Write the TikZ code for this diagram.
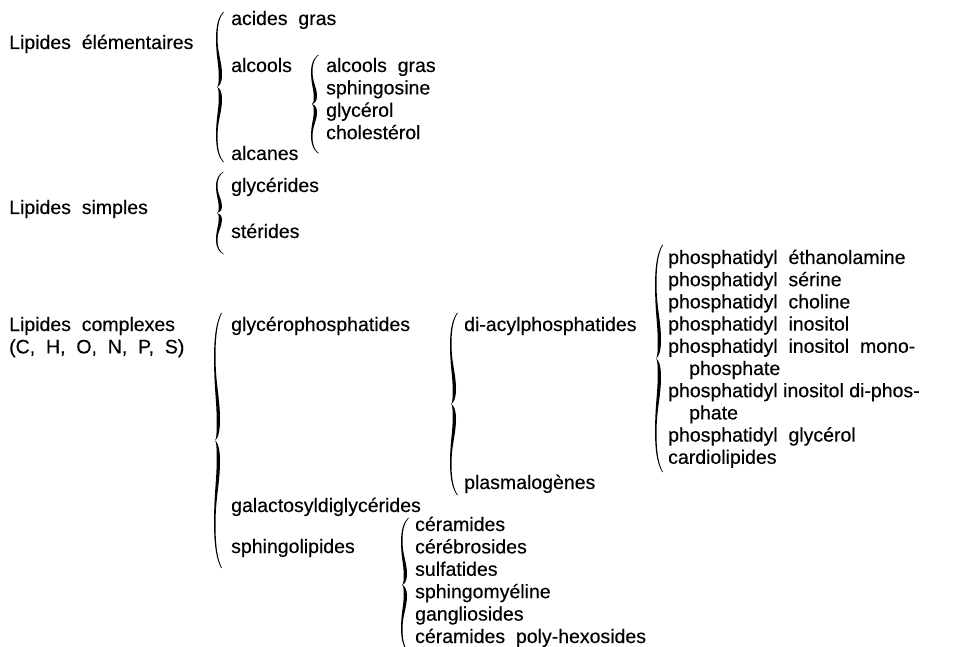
\documentclass[tikz,border=0pt]{standalone}
\usepackage{fontspec}
\setmainfont[WordSpace=2,FakeBold=0.3]{Liberation Sans}
\usetikzlibrary{calc,positioning}

% curly brace between two points (top, bottom), tip to the left
\newcommand{\accolade}[2]{%
  \fill let \p1=(#1), \p2=(#2), \n1={\y1-\y2} in
    (\x1,\y1)
    .. controls ({\x1-4pt},{\y1-0.03*\n1}) and ({\x1-6.5pt},{\y1-0.08*\n1}) .. ({\x1-6.5pt},{\y1-0.17*\n1})
    .. controls ({\x1-6.5pt},{\y1-0.28*\n1}) and ({\x1-2pt},{\y1-0.33*\n1}) .. ({\x1-2pt},{\y1-0.42*\n1})
    .. controls ({\x1-2pt},{\y1-0.47*\n1}) and ({\x1-4.5pt},{\y1-0.495*\n1}) .. ({\x1-7pt},{\y1-0.5*\n1})
    .. controls ({\x1-4.5pt},{\y1-0.505*\n1}) and ({\x1-2pt},{\y1-0.53*\n1}) .. ({\x1-2pt},{\y1-0.58*\n1})
    .. controls ({\x1-2pt},{\y1-0.67*\n1}) and ({\x1-6.5pt},{\y1-0.72*\n1}) .. ({\x1-6.5pt},{\y1-0.83*\n1})
    .. controls ({\x1-6.5pt},{\y1-0.92*\n1}) and ({\x1-4pt},{\y1-0.97*\n1}) .. ({\x1},{\y2})
    -- ({\x1-0.8pt},{\y2})
    .. controls ({\x1-5pt},{\y1-0.97*\n1}) and ({\x1-7.9pt},{\y1-0.92*\n1}) .. ({\x1-7.9pt},{\y1-0.83*\n1})
    .. controls ({\x1-8.1pt},{\y1-0.71*\n1}) and ({\x1-5.4pt},{\y1-0.66*\n1}) .. ({\x1-5.3pt},{\y1-0.58*\n1})
    .. controls ({\x1-5.2pt},{\y1-0.53*\n1}) and ({\x1-5.6pt},{\y1-0.505*\n1}) .. ({\x1-7pt},{\y1-0.5*\n1})
    .. controls ({\x1-5.6pt},{\y1-0.495*\n1}) and ({\x1-5.2pt},{\y1-0.47*\n1}) .. ({\x1-5.3pt},{\y1-0.42*\n1})
    .. controls ({\x1-5.4pt},{\y1-0.34*\n1}) and ({\x1-8.1pt},{\y1-0.29*\n1}) .. ({\x1-7.9pt},{\y1-0.17*\n1})
    .. controls ({\x1-7.9pt},{\y1-0.08*\n1}) and ({\x1-5pt},{\y1-0.03*\n1}) .. ({\x1-0.8pt},{\y1})
    -- cycle;%
}

\begin{document}
\begin{tikzpicture}[x=1pt,y=-1pt,
    lbl/.style={anchor=west,inner sep=0pt,text height=14pt,text depth=4pt,
      font=\fontsize{19.5}{22}\selectfont},
    row/.style={lbl,anchor=north west,below right=4pt and 0pt of #1.south west},
    prow/.style={lbl,anchor=north west,below right=3.8pt and 0pt of #1.south west}]
    \useasboundingbox (0,0) rectangle (959,647);

    % lipides elementaires
    \node[lbl] (lelem) at (9,44) {Lipides élémentaires};
    \node[lbl] (acgr) at (231,20) {acides gras};
    \node[lbl] (alco) at (231,67) {alcools};
    \node[lbl] (alca) at (231,155) {alcanes};
    \accolade{$(acgr.north west)+(-7,1)$}{$(alca.south west)+(-7,-2)$}

    % alcools
    \node[lbl] (algr) at (326,67) {alcools gras};
    \node[row=algr] (sphgs) {sphingosine};
    \node[row=sphgs] (glyc) {glycérol};
    \node[row=glyc] (chol) {cholestérol};
    \accolade{$(algr.north west)+(-7,-3)$}{$(chol.south west)+(-7,10)$}

    % lipides simples
    \node[lbl] (lsimp) at (9,209) {Lipides simples};
    \node[lbl] (glyd) at (231,187) {glycérides};
    \node[lbl] (ster) at (231,233) {stérides};
    \accolade{$(glyd.north west)+(-7,-6)$}{$(ster.south west)+(-7,12)$}

    % lipides complexes
    \node[lbl] (lcomp) at (9,326) {Lipides complexes};
    \node[row=lcomp] (elts) {(C, H, O, N, P, S)};
    \node[lbl] (gph) at (231,326) {glycérophosphatides};
    \node[lbl] (gald) at (231,507) {galactosyldiglycérides};
    \node[lbl] (sphl) at (231,548) {sphingolipides};
    \accolade{$(gph.north west)+(-9,-4)$}{$(sphl.south west)+(-9,11)$}

    % glycerophosphatides
    \node[lbl] (diac) at (464,326) {di-acylphosphatides};
    \node[lbl] (plas) at (464,484) {plasmalogènes};
    \accolade{$(diac.north west)+(-6,-4)$}{$(plas.south west)+(-6,2)$}

    % di-acylphosphatides
    \node[lbl] (pe) at (668,259) {phosphatidyl éthanolamine};
    \node[prow=pe] (ps) {phosphatidyl sérine};
    \node[prow=ps] (pc) {phosphatidyl choline};
    \node[prow=pc] (pi) {phosphatidyl inositol};
    \node[prow=pi] (pim) {phosphatidyl inositol mono-};
    \node[prow=pim] (pim2) {\hspace*{21pt}phosphate};
    \node[prow=pim2] (pid) {phosphatidyl\hspace{0.28em}inositol\hspace{0.28em}di-phos-};
    \node[prow=pid] (pid2) {\hspace*{21pt}phate};
    \node[prow=pid2] (pg) {phosphatidyl glycérol};
    \node[prow=pg] (card) {cardiolipides};
    \accolade{$(pe.north west)+(-5,-5)$}{$(card.south west)+(-5,4)$}

    % sphingolipides
    \node[lbl] (cer) at (415,526) {céramides};
    \node[row=cer] (cbr) {cérébrosides};
    \node[row=cbr] (sulf) {sulfatides};
    \node[row=sulf] (smy) {sphingomyéline};
    \node[row=smy] (gang) {gangliosides};
    \node[row=gang] (cph) {céramides poly-hexosides};
    \accolade{$(cer.north west)+(-6,1)$}{$(cph.south west)+(-6,5)$}
\end{tikzpicture}
\end{document}
